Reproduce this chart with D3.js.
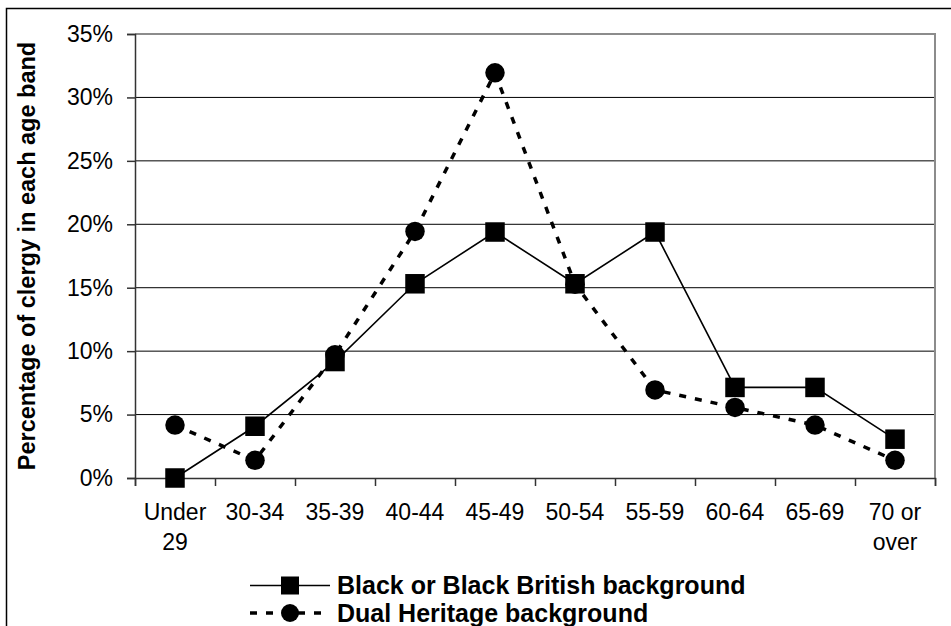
<!DOCTYPE html>
<html><head><meta charset="utf-8">
<script src="https://cdn.jsdelivr.net/npm/d3@7/dist/d3.min.js"></script>
<style>
body{margin:0;background:#fff;}
text{font-family:Arial,"Liberation Sans",sans-serif;fill:#000;}
</style></head>
<body>
<svg id="chart" width="951" height="626"></svg>
<script>
const categories = ["Under\n29","30-34","35-39","40-44","45-49","50-54","55-59","60-64","65-69","70 or\nover"];
const blackBritish = [0, 4.08, 9.18, 15.31, 19.39, 15.31, 19.39, 7.14, 7.14, 3.06];
const dualHeritage = [4.17, 1.39, 9.72, 19.44, 31.94, 15.28, 6.94, 5.56, 4.17, 1.39];
const yTicks = [0,5,10,15,20,25,30,35];
const seriesNames = ["Black or Black British background","Dual Heritage background"];
const yTitle = "Percentage of clergy in each age band";

(function(){
const svg = d3.select("#chart");
const pL = 135, pR = 935, pT = 34, pB = 478;

// outer chart border
svg.append("rect").attr("x",6.5).attr("y",8.5).attr("width",1000).attr("height",700)
  .attr("fill","none").attr("stroke","#000").attr("stroke-width",1.5);

const x = d3.scaleBand().domain(d3.range(categories.length)).range([pL,pR]).padding(0);
const y = d3.scaleLinear().domain([0,35]).range([pB,pT]);

// gridlines
svg.append("g").selectAll("line").data(yTicks.filter(t=>t>0 && t<35)).join("line")
  .attr("x1",pL).attr("x2",pR).attr("y1",d=>y(d)).attr("y2",d=>y(d))
  .attr("stroke","#000").attr("stroke-width",1);

// plot border top/right
svg.append("path").attr("d",`M${pL},${y(35)}H${pR}V${pB}`)
  .attr("fill","none").attr("stroke","#8c8c8c").attr("stroke-width",2);

// y axis
const yAxis = d3.axisLeft(y).tickValues(yTicks).tickSize(8).tickPadding(14).tickFormat(d=>d+"%");
const gy = svg.append("g").attr("transform",`translate(${pL},0)`).call(yAxis);
gy.select(".domain").attr("stroke","#333").attr("stroke-width",1.5);
gy.selectAll(".tick line").attr("stroke","#333").attr("stroke-width",1.5);
gy.selectAll(".tick text").attr("font-size",23).attr("font-family",'Arial,"Liberation Sans",sans-serif').attr("fill","#000");

// x axis: ticks at band boundaries
const xb = d3.scaleLinear().domain([0,categories.length]).range([pL,pR]);
const xAxis = d3.axisBottom(xb).tickValues(d3.range(categories.length+1)).tickSize(8).tickFormat("");
const gx = svg.append("g").attr("transform",`translate(0,${pB})`).call(xAxis);
gx.select(".domain").attr("stroke","#333").attr("stroke-width",1.5);
gx.selectAll(".tick line").attr("stroke","#333").attr("stroke-width",1.5);

// x labels
const xl = svg.append("g");
categories.forEach((c,i)=>{
  const t = xl.append("text").attr("x",x(i)+x.bandwidth()/2).attr("y",520)
    .attr("text-anchor","middle").attr("font-size",23);
  c.split("\n").forEach((s,j)=>{
    t.append("tspan").attr("x",x(i)+x.bandwidth()/2).attr("dy",j===0?0:30).text(s);
  });
});

// y title
svg.append("text").attr("transform",`translate(35,${(pT+pB)/2}) rotate(-90)`)
  .attr("text-anchor","middle").attr("font-size",23.5).attr("font-weight","bold").text(yTitle);

const cx = i => x(i)+x.bandwidth()/2;
const line = d3.line().x((d,i)=>cx(i)).y(d=>y(d));

// dual heritage dashed
svg.append("path").datum(dualHeritage).attr("d",line).attr("fill","none")
  .attr("stroke","#000").attr("stroke-width",3.5).attr("stroke-dasharray","7,9");
// black solid
svg.append("path").datum(blackBritish).attr("d",line).attr("fill","none")
  .attr("stroke","#000").attr("stroke-width",1.6);

const ms = 19.5;
svg.append("g").selectAll("circle").data(dualHeritage).join("circle")
  .attr("cx",(d,i)=>cx(i)).attr("cy",d=>y(d)).attr("r",ms/2).attr("fill","#000");
svg.append("g").selectAll("rect").data(blackBritish).join("rect")
  .attr("x",(d,i)=>cx(i)-ms/2).attr("y",d=>y(d)-ms/2).attr("width",ms).attr("height",ms).attr("fill","#000");

// legend
const lg = svg.append("g");
const lx1 = 250, lx2 = 330, lm = 290;
lg.append("line").attr("x1",lx1).attr("x2",lx2).attr("y1",585.5).attr("y2",585.5)
  .attr("stroke","#000").attr("stroke-width",1.6);
lg.append("rect").attr("x",lm-9).attr("y",585.5-9).attr("width",18).attr("height",18).attr("fill","#000");
lg.append("line").attr("x1",lx1).attr("x2",lx2).attr("y1",613).attr("y2",613)
  .attr("stroke","#000").attr("stroke-width",3.5).attr("stroke-dasharray","7,9");
lg.append("circle").attr("cx",lm).attr("cy",613).attr("r",9).attr("fill","#000");
lg.append("text").attr("x",337).attr("y",594).attr("font-size",25).attr("font-weight","bold").text(seriesNames[0]);
lg.append("text").attr("x",337).attr("y",622).attr("font-size",25).attr("font-weight","bold").text(seriesNames[1]);
})();
</script>
</body></html>
